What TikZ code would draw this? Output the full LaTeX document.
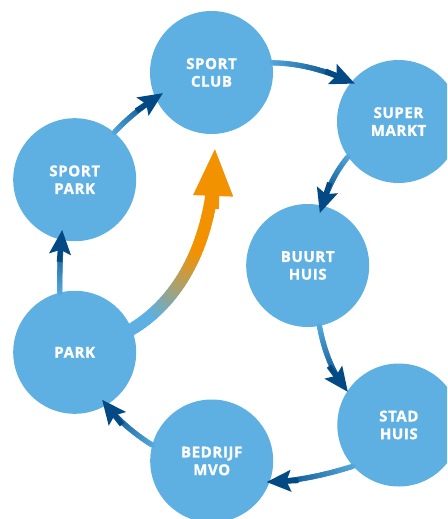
\documentclass[tikz,border=0pt]{standalone}
\usepackage{fontspec}
\newfontfamily\lblfont{Open Sans}[LetterSpace=4, BoldFeatures={FakeBold=1.2}]
\usetikzlibrary{calc,arrows.meta}
\definecolor{circblue}{RGB}{94,176,226}
\definecolor{arrdark}{RGB}{3,74,133}
\definecolor{arrlight}{RGB}{84,168,222}
\definecolor{orng}{RGB}{243,146,0}
\tikzset{
  place/.style={circle, fill=circblue, inner sep=0pt, minimum size=123pt,
    text=white, align=center, font=\lblfont\bfseries\fontsize{15}{17.7}\selectfont},
  shaft/.style={line width=5.3pt, line cap=round},
  headtip/.style={draw=arrdark, line width=5.3pt, -{Stealth[length=24pt,width=21pt,inset=4pt]}},
  boostshaft/.style={line width=12.3pt, line cap=round},
  boosthead/.style={draw=orng, line width=12.3pt, -{Triangle[length=49pt,width=36pt]}},
}
% thin connector: quadratic curve from #1 via control #2 to tip #3, blue gradient
\newcommand\flowarrow[3]{%
  \coordinate (fs) at (#1);
  \coordinate (fc) at (#2);
  \coordinate (fe) at (#3);
  \foreach \i in {0,...,30}{%
    \pgfmathsetmacro\fat{\i/30}%
    \coordinate (fa\i) at ($($(fs)!\fat!(fc)$)!\fat!($(fc)!\fat!(fe)$)$);
  }%
  \foreach \i in {0,...,25}{%
    \pgfmathtruncatemacro\j{\i+1}%
    \pgfmathtruncatemacro\pc{100*\i/25}%
    \draw[shaft, draw=arrdark!\pc!arrlight] (fa\i) -- (fa\j);
  }%
  \draw[headtip] ($(fa30)!32pt!(fa24)$) -- (fa30);
}
% thick connector: cubic curve #1 .. #2 .. #3 .. #4, blue to orange
\newcommand\boostarrow[4]{%
  \coordinate (os) at (#1);
  \coordinate (oc1) at (#2);
  \coordinate (oc2) at (#3);
  \coordinate (oe) at (#4);
  \foreach \i in {0,...,40}{%
    \pgfmathsetmacro\fat{\i/40}%
    \coordinate (oab) at ($(os)!\fat!(oc1)$);
    \coordinate (obc) at ($(oc1)!\fat!(oc2)$);
    \coordinate (ocd) at ($(oc2)!\fat!(oe)$);
    \coordinate (oabc) at ($(oab)!\fat!(obc)$);
    \coordinate (obcd) at ($(obc)!\fat!(ocd)$);
    \coordinate (ob\i) at ($(oabc)!\fat!(obcd)$);
  }%
  \foreach \i in {0,...,34}{%
    \pgfmathtruncatemacro\j{\i+1}%
    \pgfmathsetmacro\pcr{max(0,min(100,(\i/40-0.15)/0.42*100))}%
    \pgfmathtruncatemacro\pc{\pcr}%
    \draw[boostshaft, draw=orng!\pc!circblue] (ob\i) -- (ob\j);
  }%
  \draw[boosthead] ($(ob40)!62pt!(ob36)$) -- (ob40);
}
\begin{document}
\begin{tikzpicture}[x=1pt,y=-1pt]
\useasboundingbox (0,0) rectangle (447,519);
\clip (0,0) rectangle (447,519);
\node[place] (sportclub)  at (211.5,72.5) {SPORT\\CLUB};
\node[place] (supermarkt) at (398.5,121.5) {SUPER\\MARKT};
\node[place] (buurthuis)  at (307.7,265.5) {BUURT\\HUIS};
\node[place] (stadhuis)   at (398.8,425) {STAD\\HUIS};
\node[place] (bedrijf)    at (211.7,461) {BEDRIJF\\MVO};
\node[place] (park)       at (74.7,352.3) {PARK};
\node[place] (sportpark)  at (74.7,179.7) {SPORT\\PARK};

\flowarrow{sportpark.50}{133,112}{$(sportclub.203)!9pt!(sportclub.center)$}
\flowarrow{sportclub.9}{311.5,63.3}{$(supermarkt.139)!4pt!(supermarkt.center)$}
\flowarrow{supermarkt.215}{330,178}{$(buurthuis.77)!8pt!(buurthuis.center)$}
\flowarrow{buurthuis.281}{327,367}{$(stadhuis.147)!1pt!(stadhuis.center)$}
\flowarrow{stadhuis.222}{303.5,481.7}{$(bedrijf.339)!3pt!(bedrijf.center)$}
\flowarrow{bedrijf.165}{120.5,425}{$(park.300)!7pt!(park.center)$}
\flowarrow{park.104}{59.5,256}{$(sportpark.256)!10pt!(sportpark.center)$}

\coordinate (boosttip) at ($(sportclub.south)+(3.5,12.7)$);
\boostarrow{park.22}{180,300}{215,240}{boosttip}
\end{tikzpicture}
\end{document}
